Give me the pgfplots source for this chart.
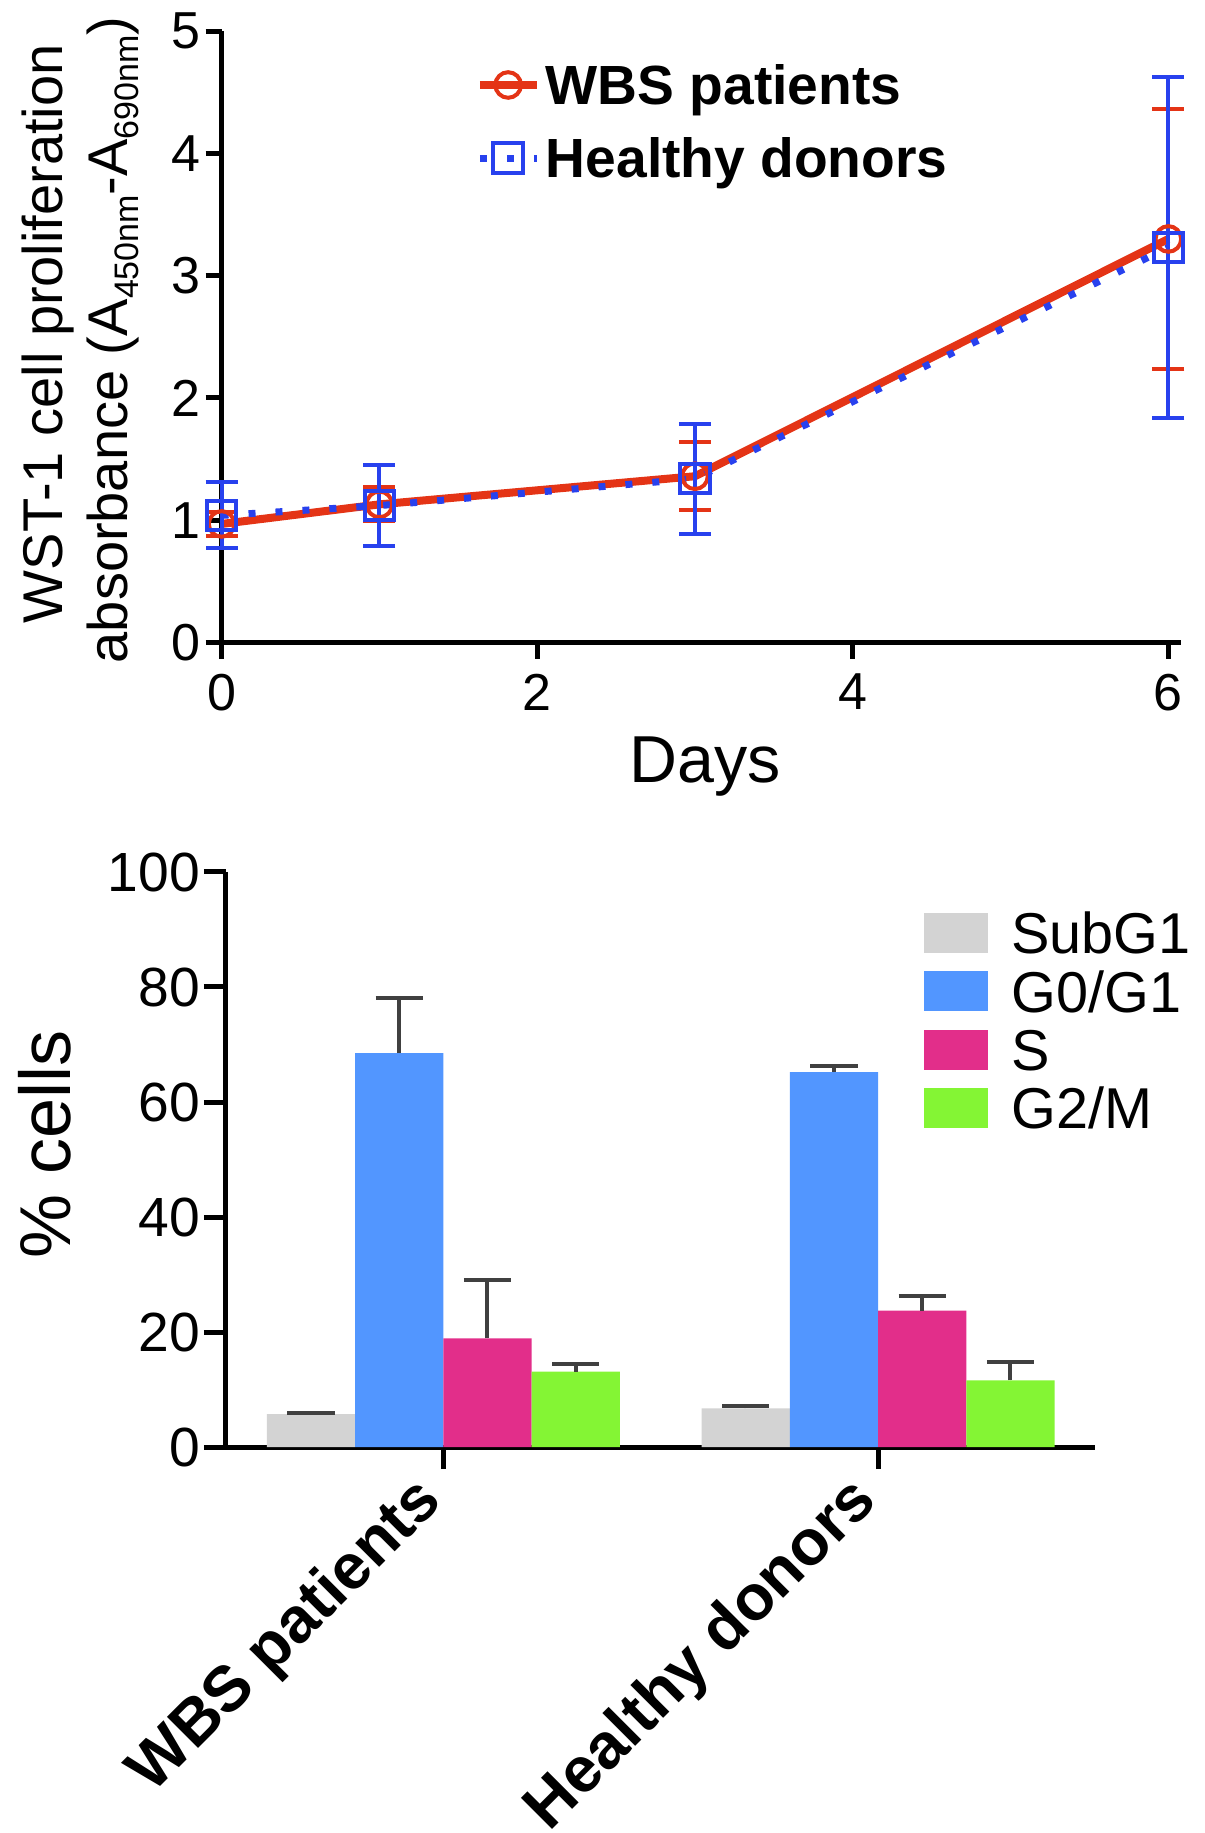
\documentclass[border=0pt]{standalone}
\usepackage{fontspec}
\setmainfont{Liberation Sans}
\usepackage{pgfplots}
\pgfplotsset{compat=1.18}
\definecolor{wbsred}{RGB}{228,52,22}
\definecolor{hdblue}{RGB}{40,65,238}
\definecolor{cgray}{RGB}{211,211,211}
\definecolor{cblue}{RGB}{82,150,255}
\definecolor{cpink}{RGB}{226,46,138}
\definecolor{cgreen}{RGB}{132,245,52}
\definecolor{errgray}{RGB}{64,64,64}
\newcommand{\sub}[1]{\raisebox{-2.6pt}{\fontsize{8.5}{9}\selectfont #1}}
\pgfplotsset{
  barleg/.style={legend image code/.code={\fill[##1] (0pt,-5pt) rectangle (16.15pt,5pt);}},
}
\begin{document}
\begin{tikzpicture}[x=1pt,y=1pt]
\useasboundingbox (0,0) rectangle (301.25,458.25);
% ---------------- top chart ----------------
\begin{axis}[
  at={(55.4pt,297.6pt)}, anchor=south west,
  scale only axis, width=239.85pt, height=152.9pt,
  xmin=0, xmax=6.08, ymin=0, ymax=5,
  axis x line*=bottom, axis y line*=left,
  axis line style={line width=1.25pt,-},
  xtick={0,2,4,6}, ytick={0,1,2,3,4,5},
  tick align=outside, major tick length=4pt,
  tick style={line width=1.25pt,black},
  /pgf/number format/assume math mode=true,
  ticklabel style={font=\fontsize{13}{15}\selectfont},
  yticklabel style={inner xsep=1pt},
  xticklabel style={inner ysep=3.7pt},
  clip=false,
  xlabel={Days},
  xlabel style={at={(axis description cs:0.504,-0.153)}, anchor=north, inner sep=0pt, font=\fontsize{16.6}{18}\selectfont},
  ylabel={\hspace*{10pt}WST-1 cell proliferation\\absorbance (A\sub{450nm}-A\sub{690nm})},
  ylabel style={at={(axis description cs:-0.2085,-0.035)}, anchor=north west, inner sep=0pt, align=left, font=\fontsize{14}{16.25}\selectfont},
  legend cell align=left,
  legend style={at={(0.2641,0.8519)}, anchor=west, draw=none, fill=none, inner sep=0pt,
    row sep=6.3pt, column sep=0pt,
    font=\fontsize{13.8}{15}\selectfont\bfseries,
    nodes={inner sep=0pt, text height=10.9pt, text depth=1.1pt},
    /tikz/every odd column/.style={column sep=1.3pt}},
  legend image code/.code={\draw[mark repeat=2,mark phase=2,#1] plot coordinates {(0pt,0pt) (7.1pt,0pt) (14.2pt,0pt)};},
]
\addplot[wbsred, line width=2pt, mark=o, mark size=3.2pt, mark options={solid,line width=1pt},
  error bars/.cd, y dir=both, y explicit,
  error bar style={line width=1pt,wbsred},
  error mark options={rotate=90,line width=1pt,mark size=4pt,wbsred}]
  coordinates {(0,0.97) +- (0,0.10) (1,1.13) +- (0,0.14) (3,1.36) +- (0,0.28) (6,3.30) +- (0,1.06)};
\addlegendentry{WBS patients}
\addplot[hdblue, line width=1.75pt, line cap=butt, dash pattern=on 1.75pt off 5pt, mark=square, mark size=3.7pt, mark options={solid,line width=1pt},
  error bars/.cd, y dir=both, y explicit,
  error bar style={line width=1pt,hdblue,solid},
  error mark options={rotate=90,line width=1pt,mark size=4pt,hdblue,solid}]
  coordinates {(0,1.04) +- (0,0.27) (1,1.12) +- (0,0.33) (3,1.34) +- (0,0.45) (6,3.23) +- (0,1.39)};
\addlegendentry{Healthy donors}
\end{axis}
% ---------------- bottom chart ----------------
\begin{axis}[
  at={(56.5pt,96.5pt)}, anchor=south west,
  scale only axis, width=217.35pt, height=143.75pt,
  xmin=-0.5, xmax=1.5, ymin=0, ymax=100,
  ybar=0pt, bar width=0.203,
  axis x line*=bottom, axis y line*=left,
  axis line style={line width=1.25pt,-},
  xtick={0,1}, xticklabels={WBS patients,Healthy donors},
  ytick={0,20,40,60,80,100},
  tick align=outside, major tick length=5.5pt,
  tick style={line width=1.25pt,black},
  /pgf/number format/assume math mode=true,
  yticklabel style={inner xsep=0.8pt, font=\fontsize{13.8}{15}\selectfont},
  xticklabel style={xshift=-8pt, rotate=45, anchor=north east, inner sep=0pt, font=\fontsize{16}{18}\selectfont\bfseries},
  clip=false,
  ylabel={\% cells},
  ylabel style={at={(axis description cs:-0.2397,0.527)}, anchor=north, inner sep=0pt, font=\fontsize{18}{20}\selectfont},
  legend cell align=left,
  legend style={at={(0.8015,0.7416)}, anchor=west, draw=none, fill=none, inner sep=0pt,
    row sep=0.58pt, column sep=0pt,
    font=\fontsize{14.4}{16}\selectfont,
    nodes={inner sep=0pt, text height=12.2pt, text depth=1.8pt},
    /tikz/every odd column/.style={column sep=5.8pt}},
]
\addplot[draw=none, fill=cgray, barleg,
  error bars/.cd, y dir=plus, y explicit,
  error bar style={line width=1pt,errgray},
  error mark options={rotate=90,line width=1pt,mark size=5.9pt,errgray}]
  coordinates {(0,5.7) +- (0,0.15) (1,6.7) +- (0,0.4)};
\addlegendentry{SubG1}
\addplot[draw=none, fill=cblue, barleg,
  error bars/.cd, y dir=plus, y explicit,
  error bar style={line width=1pt,errgray},
  error mark options={rotate=90,line width=1pt,mark size=5.9pt,errgray}]
  coordinates {(0,68.5) +- (0,9.6) (1,65.2) +- (0,1.0)};
\addlegendentry{G0/G1}
\addplot[draw=none, fill=cpink, barleg,
  error bars/.cd, y dir=plus, y explicit,
  error bar style={line width=1pt,errgray},
  error mark options={rotate=90,line width=1pt,mark size=5.9pt,errgray}]
  coordinates {(0,18.9) +- (0,10.2) (1,23.7) +- (0,2.5)};
\addlegendentry{S}
\addplot[draw=none, fill=cgreen, barleg,
  error bars/.cd, y dir=plus, y explicit,
  error bar style={line width=1pt,errgray},
  error mark options={rotate=90,line width=1pt,mark size=5.9pt,errgray}]
  coordinates {(0,13.1) +- (0,1.4) (1,11.6) +- (0,3.25)};
\addlegendentry{G2/M}
\end{axis}
\end{tikzpicture}
\end{document}
